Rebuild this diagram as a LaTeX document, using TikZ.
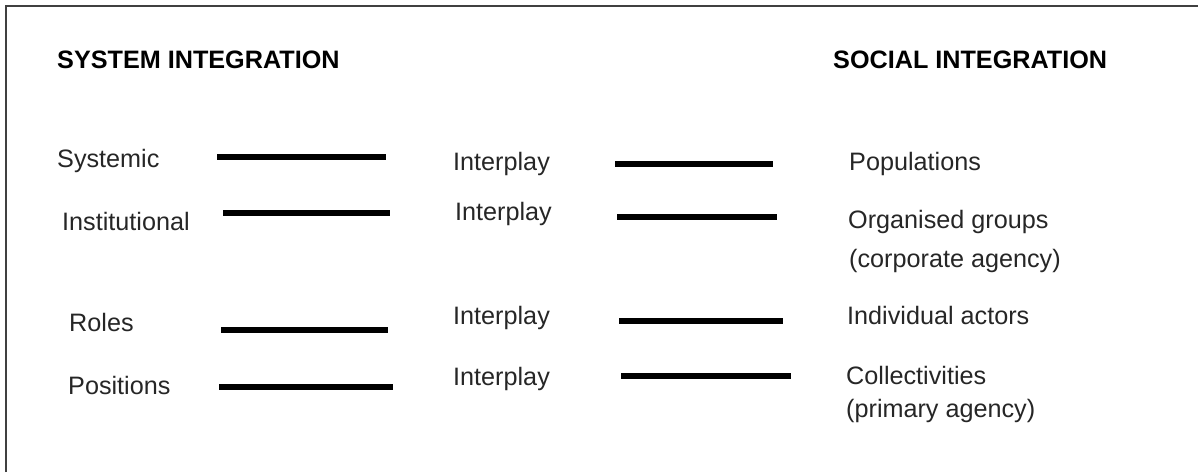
\documentclass[tikz,border=0pt]{standalone}
\usepackage{fontspec}
\setmainfont{Liberation Sans}
\begin{document}
\begin{tikzpicture}[x=1pt,y=-1pt,
  lbl/.style={anchor=base west,inner sep=0pt,text=black!85,font=\fontsize{25.2}{30}\selectfont},
  head/.style={anchor=base west,inner sep=0pt,text=black,font=\fontsize{25.2}{30}\selectfont\bfseries},
  bar/.style={line width=5.5pt,black},
  frame/.style={line width=2pt,black!75}]
\useasboundingbox (0,0) rectangle (1198,472);
\coordinate (fa) at (6,472);
\coordinate (fb) at (6,6);
\coordinate (fc) at (1198,6);
\draw[frame] (fa) -- (fb) -- (fc);
\node[head] (h1) at (57,68) {SYSTEM INTEGRATION};
\node[head] (h2) at (833,68) {SOCIAL INTEGRATION};
% left labels
\node[lbl] (l1) at (57,167) {Systemic};
\node[lbl] (l2) at (62,230) {Institutional};
\node[lbl] (l3) at (69,331) {Roles};
\node[lbl] (l4) at (68,394) {Positions};
% middle labels
\node[lbl] (m1) at (453,170) {Interplay};
\node[lbl] (m2) at (455,220) {Interplay};
\node[lbl] (m3) at (453,324) {Interplay};
\node[lbl] (m4) at (453,385) {Interplay};
% right labels
\node[lbl] (r1) at (849,170) {Populations};
\node[lbl] (r2) at (848,228) {Organised groups};
\node[lbl] (r2b) at (849,267) {(corporate agency)};
\node[lbl] (r3) at (847,324) {Individual actors};
\node[lbl] (r4) at (846,384) {Collectivities};
\node[lbl] (r4b) at (846,417) {(primary agency)};
% bars left
\coordinate (a1) at (217,157); \coordinate (b1) at (386,157);
\coordinate (a2) at (223,213); \coordinate (b2) at (390,213);
\coordinate (a3) at (221,330); \coordinate (b3) at (388,330);
\coordinate (a4) at (219,387); \coordinate (b4) at (393,387);
\draw[bar] (a1) -- (b1);
\draw[bar] (a2) -- (b2);
\draw[bar] (a3) -- (b3);
\draw[bar] (a4) -- (b4);
% bars right
\coordinate (c1) at (615,164); \coordinate (d1) at (773,164);
\coordinate (c2) at (617,217); \coordinate (d2) at (777,217);
\coordinate (c3) at (619,321); \coordinate (d3) at (783,321);
\coordinate (c4) at (621,376); \coordinate (d4) at (791,376);
\draw[bar] (c1) -- (d1);
\draw[bar] (c2) -- (d2);
\draw[bar] (c3) -- (d3);
\draw[bar] (c4) -- (d4);
\end{tikzpicture}
\end{document}
